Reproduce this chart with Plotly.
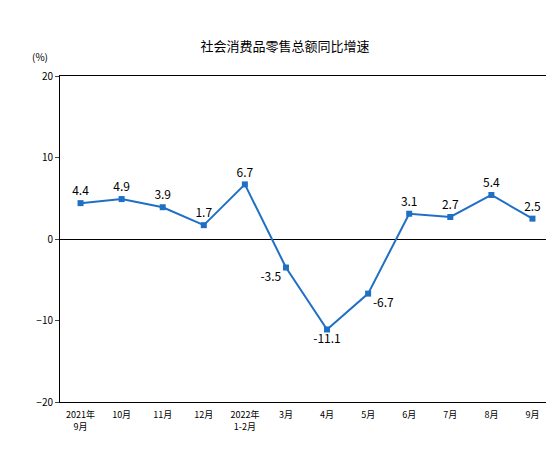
import plotly.graph_objects as go

categories = ["2021年<br>9月", "10月", "11月", "12月", "2022年<br>1-2月", "3月", "4月", "5月", "6月", "7月", "8月", "9月"]
values = [4.4, 4.9, 3.9, 1.7, 6.7, -3.5, -11.1, -6.7, 3.1, 2.7, 5.4, 2.5]
positions = ["top center"] * 5 + ["bottom left", "bottom center", "bottom right"] + ["top center"] * 4

fig = go.Figure(go.Scatter(
    x=list(range(len(categories))), y=values, mode="lines+markers+text",
    line=dict(color="#1f6fc5", width=2),
    marker=dict(symbol="square", size=6, color="#1f6fc5"),
    text=[f"{v:.1f}" for v in values], textposition=positions,
    textfont=dict(size=12, color="#000"), cliponaxis=False,
))
fig.update_layout(
    width=554, height=449, plot_bgcolor="white", paper_bgcolor="white",
    margin=dict(l=52, r=9, t=68, b=55), showlegend=False,
    font=dict(family="Noto Sans CJK SC", size=9, color="#000"),
    title=dict(text="社会消费品零售总额同比增速", x=0.5, xanchor="center", y=0.925, font=dict(size=13)),
    annotations=[dict(text="(%)", xref="paper", yref="paper", x=-0.06, y=1.09, showarrow=False, font=dict(size=10))],
)
fig.update_xaxes(tickmode="array", tickvals=list(range(len(categories))), ticktext=categories,
                 range=[-0.5, 11.5], showline=True, linecolor="#000", mirror=True, showgrid=False,
                 ticks="", zeroline=False, automargin=False, ticklabelstandoff=4)
fig.update_yaxes(range=[-20, 20], dtick=10, showline=True, linecolor="#000", mirror=True,
                 showgrid=False, ticks="outside", ticklen=4, zeroline=True, zerolinecolor="#000",
                 zerolinewidth=1, automargin=False, tickfont=dict(size=10))
fig.write_html("out.html")
